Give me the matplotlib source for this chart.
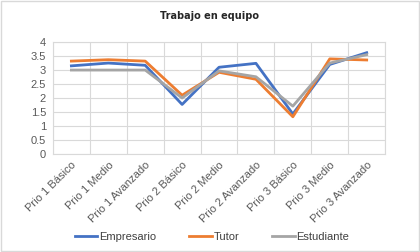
import matplotlib.pyplot as plt
import numpy as np

plt.rcParams['font.family'] = ['Liberation Sans', 'DejaVu Sans']

categorias = ["Prio 1 Básico", "Prio 1 Medio", "Prio 1 Avanzado",
              "Prio 2 Básico", "Prio 2 Medio", "Prio 2 Avanzado",
              "Prio 3 Básico", "Prio 3 Medio", "Prio 3 Avanzado"]
empresario = [3.15, 3.25, 3.17, 1.77, 3.1, 3.24, 1.43, 3.2, 3.62]
tutor = [3.32, 3.37, 3.32, 2.1, 2.92, 2.67, 1.33, 3.4, 3.36]
estudiante = [3.0, 3.0, 3.0, 2.0, 2.97, 2.76, 1.71, 3.25, 3.55]

fig = plt.figure(figsize=(4.2, 2.52), dpi=100)
fig.patches.append(plt.Rectangle((0.002, 0.004), 0.996, 0.992, transform=fig.transFigure,
                                 fill=False, edgecolor="#d9d9d9", linewidth=1))
ax = fig.add_axes([0.126, 0.389, 0.791, 0.444])

x = np.arange(len(categorias))
ax.plot(x, empresario, color="#4472C4", lw=2, label="Empresario")
ax.plot(x, tutor, color="#ED7D31", lw=2, label="Tutor")
ax.plot(x, estudiante, color="#A5A5A5", lw=2, label="Estudiante")

ax.set_xlim(-0.5, len(categorias) - 0.5)
ax.set_ylim(0, 4)
ax.set_yticks(np.arange(0, 4.01, 0.5))
ax.set_yticklabels(["0", "0.5", "1", "1.5", "2", "2.5", "3", "3.5", "4"])
ax.set_xticks(x)
ax.set_xticklabels(categorias, rotation=45, ha="right", rotation_mode="anchor")
ax.set_xticks(np.arange(-0.5, len(categorias), 1), minor=True)
ax.grid(True, axis="y", color="#d9d9d9", lw=0.8)
ax.grid(True, axis="x", which="minor", color="#d9d9d9", lw=0.8)
ax.set_axisbelow(True)
ax.tick_params(axis="both", which="both", length=0, labelsize=8, labelcolor="#595959")
ax.tick_params(axis="x", pad=4)
ax.tick_params(axis="y", pad=5)
for s in ["top", "right", "bottom", "left"]:
    ax.spines[s].set_color("#d9d9d9")
    ax.spines[s].set_linewidth(0.8)

fig.text(0.5, 0.935, "Trabajo en equipo", ha="center", va="center",
         fontsize=7, fontweight="bold", color="#262626", family="DejaVu Sans")
fig.legend(loc="center", bbox_to_anchor=(0.505, 0.058), ncol=3, frameon=False,
           fontsize=8, handlelength=2, columnspacing=3, handletextpad=0.15,
           labelcolor="#404040")

fig.savefig("out.png", dpi=100)
